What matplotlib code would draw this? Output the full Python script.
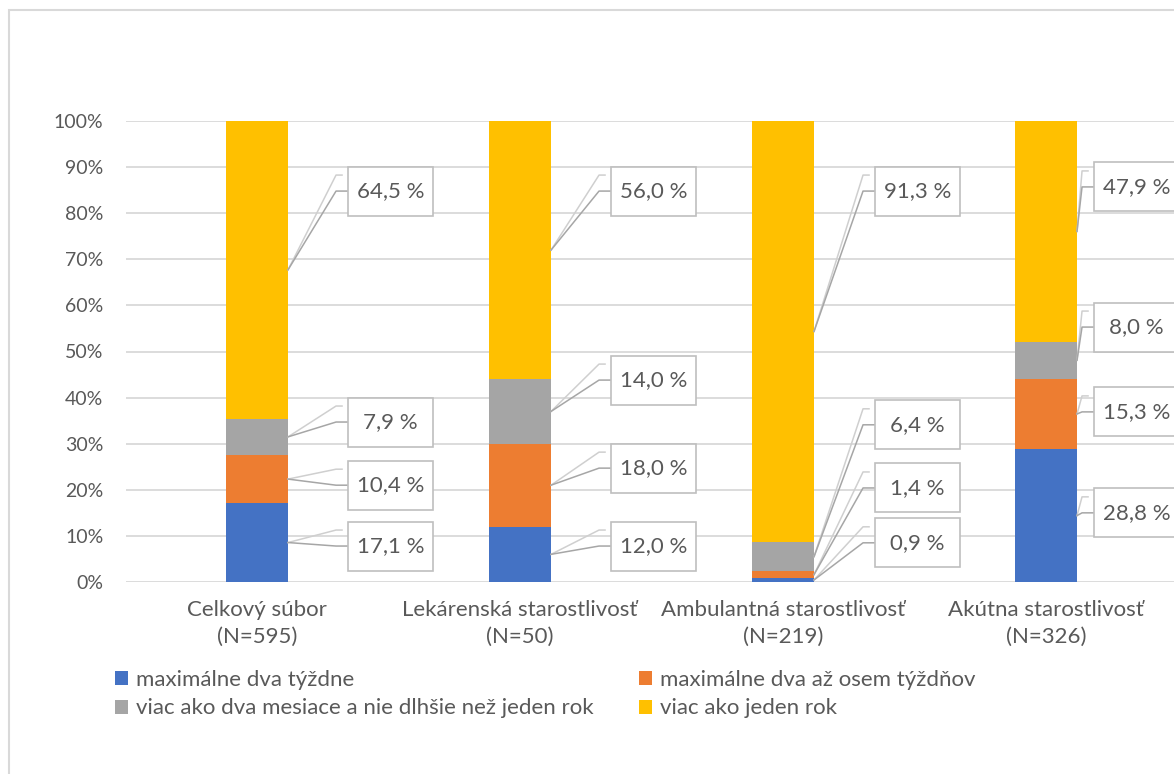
import numpy as np
import matplotlib
matplotlib.use("Agg")
import matplotlib.pyplot as plt
from matplotlib.patches import Patch, Rectangle

plt.rcParams['font.family'] = ['Lato', 'DejaVu Sans']

# data
categories = ['Celkový súbor\n(N=595)', 'Lekárenská starostlivosť\n(N=50)',
              'Ambulantná starostlivosť\n(N=219)', 'Akútna starostlivosť\n(N=326)']
series_names = ['maximálne dva týždne', 'maximálne dva až osem týždňov',
                'viac ako dva mesiace a nie dlhšie než jeden rok', 'viac ako jeden rok']
dva_tyzdne = [17.1, 12.0, 0.9, 28.8]
dva_az_osem = [10.4, 18.0, 1.4, 15.3]
dva_mesiace_rok = [7.9, 14.0, 6.4, 8.0]
viac_ako_rok = [64.5, 56.0, 91.3, 47.9]

# layout of the data labels (centre height of each box, in % of the axis)
label_y = [[7.8, 21.0, 34.7, 84.8],
           [7.8, 24.7, 43.8, 84.8],
           [8.5, 20.4, 34.1, 84.8],
           [15.0, 36.9, 55.3, 85.7]]
label_gap = [60, 60, 61, 17]   # px from bar edge to label box

colors = ['#4472C4', '#ED7D31', '#A5A5A5', '#FFC000']
text_col = '#595959'

W, H = 1174, 774
fig = plt.figure(figsize=(W / 100, H / 100), dpi=100)
ax = fig.add_axes([125.5 / W, (H - 582) / H, 1052 / W, 461 / H])

values = np.array([dva_tyzdne, dva_az_osem, dva_mesiace_rok, viac_ako_rok])
shares = values / values.sum(axis=0) * 100
x = np.arange(len(categories))
bar_w = 0.236

bottom = np.zeros(len(categories))
for i in range(len(series_names)):
    ax.bar(x, shares[i], bar_w, bottom=bottom, color=colors[i], zorder=2)
    bottom += shares[i]

ax.set_xlim(-0.5, 3.5)
ax.set_ylim(0, 100)
ax.set_yticks(np.arange(0, 101, 10))
ax.set_yticklabels([f'{t}%' for t in range(0, 101, 10)])
ax.set_xticks(x)
ax.set_xticklabels(categories, linespacing=1.45)
ax.tick_params(axis='both', length=0, colors=text_col)
ax.tick_params(axis='y', pad=16, labelsize=14)
ax.tick_params(axis='x', pad=13, labelsize=16)
ax.grid(axis='y', color='#d9d9d9', linewidth=1.3)
ax.set_axisbelow(True)
for s in ax.spines.values():
    s.set_visible(False)

# data labels with leader lines
px_x = 1.0 / 263
px_y = 100.0 / 461
box_w, box_h = 85 * px_x, 49 * px_y
for c in range(len(categories)):
    right = x[c] + bar_w / 2
    base = 0
    for i in range(len(series_names)):
        mid = base + shares[i][c] / 2
        base += shares[i][c]
        bx = right + label_gap[c] * px_x
        by = label_y[c][i]
        ax.plot([right, bx - 12 * px_x, bx - 6 * px_x],
                [mid, by + 16 * px_y, by + 16 * px_y],
                color='#cfcfcf', lw=1.1, zorder=3, clip_on=False)
        ax.plot([right, bx - 12 * px_x, bx], [mid, by, by],
                color='#a6a6a6', lw=1.1, zorder=3, clip_on=False)
        ax.add_patch(Rectangle((bx, by - box_h / 2), box_w, box_h, facecolor='white',
                               edgecolor='#bfbfbf', lw=1.2, zorder=4, clip_on=False))
        txt = f'{values[i][c]:.1f}'.replace('.', ',') + ' %'
        ax.text(bx + box_w / 2, by, txt, ha='center', va='center', fontsize=16,
                color=text_col, zorder=5)

# legend (two columns)
handles = [Patch(facecolor=col, edgecolor='none') for col in colors]
kw = dict(frameon=False, fontsize=16, labelcolor=text_col, handlelength=0.6,
          handleheight=0.6, handletextpad=0.35, labelspacing=0.4,
          borderpad=0, borderaxespad=0, loc='center left')
fig.legend([handles[0], handles[2]], [series_names[0], series_names[2]],
           bbox_to_anchor=(115 / W, 1 - 694 / H), **kw)
fig.legend([handles[1], handles[3]], [series_names[1], series_names[3]],
           bbox_to_anchor=(639 / W, 1 - 694 / H), **kw)

# chart area border
fig.add_artist(Rectangle((8.5 / W, -0.1), 1.2, 1.1 - 10.5 / H, transform=fig.transFigure,
                         facecolor='none', edgecolor='#d9d9d9', lw=1.5))

fig.savefig('out.png', dpi=100)
